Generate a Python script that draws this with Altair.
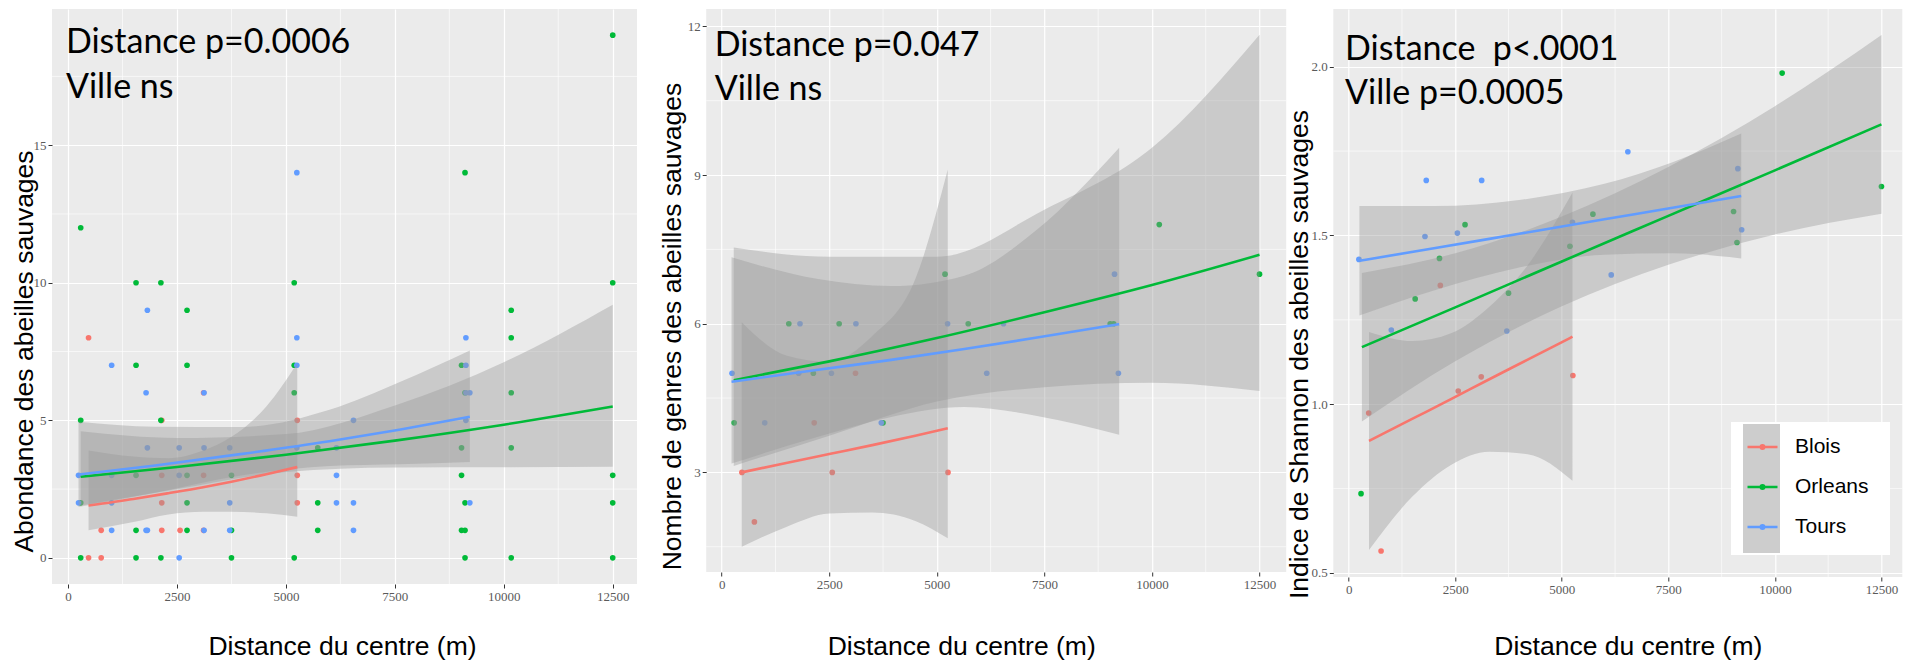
import altair as alt
import pandas as pd

villes = ["Blois", "Orleans", "Tours"]
couleurs = ["#F8766D", "#00BA38", "#619CFF"]
cles = ["k1", "k2", "k3"]  # keys of the grey legend background

# site distances (m)
dist_blois = [470, 760, 2150, 2570, 3110, 5260]
dist_orleans = [290, 1560, 2130, 2730, 3750, 5190, 5730, 9030, 9110, 10170, 12500]
dist_tours = [240, 1000, 1790, 1820, 2550, 3120, 3710, 5250, 6160, 6550, 9130, 9220]

# panel 1 : abondance (several samples per site)
abond_blois = [[8, 0], [1, 0], [5, 3, 2, 1], [1], [6, 3, 1], [5, 3, 2]]
abond_orleans = [[12, 5, 2, 0], [10, 7, 3, 1, 0], [10, 5, 0], [9, 7, 3, 2, 1], [3, 1, 0],
                 [10, 7, 6, 0], [4, 2, 1], [7, 4, 3, 1], [14, 6, 2, 1, 0], [9, 8, 6, 4, 0],
                 [19, 10, 3, 2, 0]]
abond_tours = [[3, 2], [7, 3, 2, 1], [6, 1], [9, 4, 1], [4, 3, 0], [6, 4, 1], [4, 2, 1],
               [14, 8, 7, 4], [4, 3, 2], [5, 2, 1], [8, 7, 6, 5], [6, 2]]

# panel 2 : nombre de genres
genres_blois = [3, 2, 4, 3, 5, 3]
genres_orleans = [4, 6, 5, 6, 4, 7, 6, 6, 6, 8, 7]
genres_tours = [5, 4, 5, 6, 5, 6, 4, 6, 5, 6, 7, 5]

# panel 3 : indice de Shannon
shannon_blois = [0.974, 0.565, 1.352, 1.039, 1.081, 1.085]
shannon_orleans = [0.735, 1.312, 1.432, 1.532, 1.329, 1.468, 1.563, 1.571, 1.479, 1.981, 1.645]
shannon_tours = [1.429, 1.220, 1.497, 1.663, 1.507, 1.663, 1.217, 1.539, 1.383, 1.748, 1.698, 1.517]

# fitted curves and confidence bands
p1_blois_x = [470, 1500, 2300, 3100, 3750, 4550, 5260]
p1_blois_fit = [1.9, 2.14, 2.35, 2.57, 2.77, 3.04, 3.3]
p1_blois_lo = [1.0, 1.3, 1.58, 1.68, 1.68, 1.62, 1.49]
p1_blois_hi = [3.9, 3.68, 3.62, 3.9, 4.4, 5.5, 7.07]
p1_orleans_x = [290, 2500, 5000, 7500, 10000, 12500]
p1_orleans_fit = [2.95, 3.3, 3.75, 4.26, 4.84, 5.5]
p1_orleans_lo = [1.9, 2.5, 3.12, 3.28, 3.29, 3.31]
p1_orleans_hi = [4.6, 4.36, 4.5, 5.54, 7.11, 9.2]
p1_tours_x = [240, 2000, 4000, 6000, 7600, 9220]
p1_tours_fit = [3.03, 3.36, 3.78, 4.24, 4.66, 5.13]
p1_tours_lo = [1.85, 2.37, 3.0, 3.34, 3.4, 3.48]
p1_tours_hi = [4.95, 4.77, 4.76, 5.38, 6.38, 7.54]

p2_blois_x = [466, 1500, 2500, 3500, 4500, 5254]
p2_blois_fit = [3.0, 3.19, 3.37, 3.55, 3.74, 3.89]
p2_blois_lo = [1.5, 1.9, 2.17, 2.19, 2.02, 1.67]
p2_blois_hi = [6.03, 5.36, 5.23, 5.75, 6.9, 9.11]
p2_orleans_x = [280, 2500, 5000, 7500, 10000, 12500]
p2_orleans_fit = [4.86, 5.24, 5.71, 6.23, 6.78, 7.39]
p2_orleans_lo = [3.13, 3.74, 4.43, 4.72, 4.81, 4.64]
p2_orleans_hi = [7.54, 7.35, 7.35, 8.3, 9.55, 11.83]
p2_tours_x = [229, 2240, 3940, 5640, 7330, 9238]
p2_tours_fit = [4.83, 5.07, 5.27, 5.49, 5.72, 5.99]
p2_tours_lo = [3.18, 3.72, 4.12, 4.32, 4.14, 3.76]
p2_tours_hi = [7.34, 6.9, 6.76, 6.97, 7.9, 9.55]

p3_blois_x = [477, 1500, 2400, 3300, 4200, 5250]
p3_blois_fit = [0.891, 0.957, 1.015, 1.074, 1.132, 1.2]
p3_blois_lo = [0.568, 0.727, 0.82, 0.859, 0.852, 0.773]
p3_blois_hi = [1.214, 1.187, 1.21, 1.289, 1.412, 1.627]
p3_orleans_x = [310, 2500, 5000, 7500, 10000, 12500]
p3_orleans_fit = [1.169, 1.287, 1.423, 1.558, 1.693, 1.829]
p3_orleans_lo = [0.949, 1.127, 1.29, 1.413, 1.503, 1.564]
p3_orleans_hi = [1.389, 1.447, 1.556, 1.703, 1.883, 2.094]
p3_tours_x = [251, 2000, 4000, 6000, 7600, 9210]
p3_tours_fit = [1.425, 1.462, 1.505, 1.548, 1.582, 1.617]
p3_tours_lo = [1.263, 1.337, 1.405, 1.443, 1.447, 1.432]
p3_tours_hi = [1.587, 1.587, 1.605, 1.653, 1.717, 1.802]

x_ticks = [0, 2500, 5000, 7500, 10000, 12500]
x_minor = [1250, 3750, 6250, 8750, 11250]

x_title = "Distance du centre (m)"


def points_abond():
    rows = []
    for ville, dists, vals in [("Blois", dist_blois, abond_blois),
                               ("Orleans", dist_orleans, abond_orleans),
                               ("Tours", dist_tours, abond_tours)]:
        for d, vs in zip(dists, vals):
            for v in vs:
                rows.append({"dist": d, "val": v, "ville": ville})
    return pd.DataFrame(rows)


def points_simple(b, o, t):
    rows = []
    for ville, dists, vals in [("Blois", dist_blois, b), ("Orleans", dist_orleans, o),
                               ("Tours", dist_tours, t)]:
        for d, v in zip(dists, vals):
            rows.append({"dist": d, "val": v, "ville": ville})
    return pd.DataFrame(rows)


def bands(spec):
    rows = []
    for ville, (xs, fit, lo, hi) in zip(villes, spec):
        for a, f, l, h in zip(xs, fit, lo, hi):
            rows.append({"dist": a, "fit": f, "lo": l, "hi": h, "ville": ville})
    return pd.DataFrame(rows)


color_scale = alt.Scale(domain=villes, range=couleurs)
# coloured legend entries (drawn on top, no box)
legend = alt.Legend(
    title=None, orient="none", legendX=1678, legendY=407.5,
    padding=14, labelFontSize=21, labelFont="Liberation Sans", labelColor="black",
    symbolType="M-1,0L1,0M0.12,0A0.12,0.12,0,1,1,-0.12,0A0.12,0.12,0,1,1,0.12,0",
    symbolSize=900, symbolStrokeWidth=2.5, labelOffset=16, rowPadding=13, symbolOffset=2,
    zindex=2,
)
# white legend box with grey key background (drawn below, no labels)
key_path = "M-0.86,-1H0.86V1H-0.86Z"
key_legend = alt.Legend(
    title=None, orient="none", legendX=1679, legendY=413, fillColor="white",
    padding=2, symbolSize=1849, symbolOffset=7, labelOffset=105,
    labelExpr="''", labelFontSize=21, rowPadding=0,
    symbolFillColor="#CDCDCD", symbolStrokeWidth=0, symbolOpacity=1, zindex=1,
)


def panel(pts, bnd, ann_x, ann_y, ann_text, xdom, ydom, yvals, yminor, yfmt, ytitle,
          w, h, ytx, yty, minext, xtx, xty, with_key=False):
    xs = alt.Scale(domain=xdom, nice=False, zero=False)
    ys = alt.Scale(domain=ydom, nice=False, zero=False)
    xaxis = alt.Axis(values=x_ticks, format="d", title=x_title, titleX=xtx, titleY=xty,
                     titleAlign="center", titleBaseline="alphabetic", labelFlush=False)
    yaxis = alt.Axis(values=yvals, format=yfmt, title=ytitle, titleX=ytx, titleY=yty,
                     titleAlign="center", titleBaseline="alphabetic", minExtent=minext,
                     labelFlush=False)
    minor_x = alt.Chart(pd.DataFrame({"v": x_minor})).mark_rule(
        color="white", strokeWidth=0.6).encode(x=alt.X("v:Q", scale=xs, axis=xaxis))
    minor_y = alt.Chart(pd.DataFrame({"v": yminor})).mark_rule(
        color="white", strokeWidth=0.6).encode(y=alt.Y("v:Q", scale=ys, axis=yaxis))
    pts_layer = alt.Chart(pts).mark_circle(size=32, opacity=1).encode(
        x=alt.X("dist:Q", scale=xs, axis=xaxis),
        y=alt.Y("val:Q", scale=ys, axis=yaxis),
        color=alt.Color("ville:N", scale=color_scale, legend=legend),
    )
    band_layer = alt.Chart(bnd).mark_area(color="#999999", opacity=0.4,
                                          interpolate="monotone", clip=True).encode(
        x=alt.X("dist:Q", scale=xs, axis=xaxis),
        y=alt.Y("lo:Q", scale=ys, axis=yaxis),
        y2="hi:Q",
        detail="ville:N",
    )
    line_layer = alt.Chart(bnd).mark_line(strokeWidth=2.6, interpolate="monotone",
                                          clip=True).encode(
        x=alt.X("dist:Q", scale=xs, axis=xaxis),
        y=alt.Y("fit:Q", scale=ys, axis=yaxis),
        color=alt.Color("ville:N", scale=color_scale, legend=legend),
    )
    ann = alt.Chart(pd.DataFrame({"x": ann_x, "y": ann_y, "t": ann_text})).mark_text(
        align="left", baseline="alphabetic", font="Lato", fontSize=34, color="black"
    ).encode(
        x=alt.X("x:Q", scale=xs, axis=xaxis),
        y=alt.Y("y:Q", scale=ys, axis=yaxis),
        text="t:N",
    )
    layers = [minor_x, minor_y, pts_layer, band_layer, line_layer, ann]
    if with_key:
        empty = pd.DataFrame({"dist": pd.Series([], dtype=float),
                              "val": pd.Series([], dtype=float),
                              "cle": pd.Series([], dtype=str)})
        key_layer = alt.Chart(empty).mark_point(filled=True, color="#CDCDCD").encode(
            x=alt.X("dist:Q", scale=xs, axis=xaxis),
            y=alt.Y("val:Q", scale=ys, axis=yaxis),
            shape=alt.Shape("cle:N",
                            scale=alt.Scale(domain=cles, range=[key_path] * 3),
                            legend=key_legend),
        )
        layers.append(key_layer)
    return alt.layer(*layers).properties(width=w, height=h)


p1 = panel(points_abond(),
           bands([(p1_blois_x, p1_blois_fit, p1_blois_lo, p1_blois_hi),
                  (p1_orleans_x, p1_orleans_fit, p1_orleans_lo, p1_orleans_hi),
                  (p1_tours_x, p1_tours_fit, p1_tours_lo, p1_tours_hi)]),
           [-50, -50], [18.34, 16.73], ["Distance p=0.0006", "Ville ns"],
           [-369, 13057], [-0.95, 19.95], [0, 5, 10, 15], [2.5, 7.5, 12.5, 17.5], "d",
           "Abondance des abeilles sauvages", 585, 575, -20, 342, 44, 290, 70)

p2 = panel(points_simple(genres_blois, genres_orleans, genres_tours),
           bands([(p2_blois_x, p2_blois_fit, p2_blois_lo, p2_blois_hi),
                  (p2_orleans_x, p2_orleans_fit, p2_orleans_lo, p2_orleans_hi),
                  (p2_tours_x, p2_tours_fit, p2_tours_lo, p2_tours_hi)]),
           [-163, -163], [11.40, 10.52], ["Distance p=0.047", "Ville ns"],
           [-360, 13120], [0.99, 12.35], [3, 6, 9, 12], [1.5, 4.5, 7.5, 10.5], "d",
           "Nombre de genres des abeilles sauvages", 580, 563, -26, 317, 20, 255, 82)

p3 = panel(points_simple(shannon_blois, shannon_orleans, shannon_tours),
           bands([(p3_blois_x, p3_blois_fit, p3_blois_lo, p3_blois_hi),
                  (p3_orleans_x, p3_orleans_fit, p3_orleans_lo, p3_orleans_hi),
                  (p3_tours_x, p3_tours_fit, p3_tours_lo, p3_tours_hi)]),
           [-84, -84], [2.02, 1.89], ["Distance\u00a0\u00a0p<.0001", "Ville p=0.0005"],
           [-361, 12989], [0.488, 2.171], [0.5, 1.0, 1.5, 2.0], [0.75, 1.25, 1.75], ".1f",
           "Indice de Shannon des abeilles sauvages", 569, 568, -26, 345, 20, 294.5, 77,
           with_key=True)

inner = alt.hconcat(p2, p3, spacing=47.1, bounds="flush")
chart = alt.hconcat(p1, inner, spacing=69.2, bounds="flush").properties(
    padding=0
).configure_view(
    fill="#EBEBEB", strokeWidth=0
).configure_axis(
    grid=True, gridColor="white", gridWidth=1.2, domain=False,
    tickColor="#333333", tickSize=4, tickWidth=1,
    labelFont="Liberation Sans Narrow", labelFontSize=13, labelColor="#5a5a5a",
    labelPadding=2,
    titleFont="Liberation Sans", titleFontSize=26.5, titleFontWeight="normal",
    titleColor="black",
)

chart.save("out.html", embed_options={"renderer": "svg", "actions": False})
